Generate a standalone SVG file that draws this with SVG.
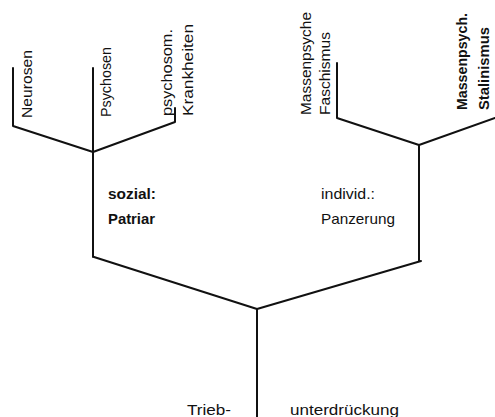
<svg xmlns="http://www.w3.org/2000/svg" width="495" height="417" viewBox="0 0 495 417">
<style>
.ln{fill:none;stroke:#111;stroke-width:2;stroke-linecap:round;stroke-linejoin:round}
.t{font-family:"Liberation Sans",Arial,sans-serif;font-size:15px;fill:#111}
.b{font-weight:bold}
</style>
<rect width="495" height="417" fill="#fff"/>
<g id="connectors">
<path class="ln" d="M13,68 V126 L93,152"/>
<path class="ln" d="M93,68 V257"/>
<path class="ln" d="M175,108 V122 L93,152"/>
<path class="ln" d="M337,63 V118 L419,145"/>
<path class="ln" d="M495,118 L419,145 V261"/>
<path class="ln" d="M94,257 L257,309 L421,261"/>
<path class="ln" d="M257,309 V417"/>
</g>
<g id="neurosen"><text class="t" transform="translate(32,118) rotate(-90)" textLength="68" lengthAdjust="spacingAndGlyphs">Neurosen</text></g>
<g id="psychosen"><text class="t" transform="translate(111,117) rotate(-90)" textLength="70" lengthAdjust="spacingAndGlyphs">Psychosen</text></g>
<g id="psychosom"><text class="t" transform="translate(172,116) rotate(-90)" textLength="87" lengthAdjust="spacingAndGlyphs">psychosom.</text>
<text class="t" transform="translate(193,116) rotate(-90)" textLength="92" lengthAdjust="spacingAndGlyphs">Krankheiten</text></g>
<g id="faschismus"><text class="t" transform="translate(311,115) rotate(-90)" textLength="103" lengthAdjust="spacingAndGlyphs">Massenpsyche</text>
<text class="t" transform="translate(330,115) rotate(-90)" textLength="83" lengthAdjust="spacingAndGlyphs">Faschismus</text></g>
<g id="stalinismus"><text class="t b" transform="translate(467,110) rotate(-90)" textLength="97" lengthAdjust="spacingAndGlyphs">Massenpsych.</text>
<text class="t b" transform="translate(489,110) rotate(-90)" textLength="83" lengthAdjust="spacingAndGlyphs">Stalinismus</text></g>
<g id="sozial"><text class="t b" x="108" y="199" textLength="48" lengthAdjust="spacingAndGlyphs">sozial:</text>
<text class="t b" x="108" y="224" textLength="47" lengthAdjust="spacingAndGlyphs">Patriar</text></g>
<g id="individ"><text class="t" x="321" y="199" textLength="54" lengthAdjust="spacingAndGlyphs">individ.:</text>
<text class="t" x="321" y="224" textLength="74" lengthAdjust="spacingAndGlyphs">Panzerung</text></g>
<g id="triebunterdrueckung"><text class="t" x="187" y="415" textLength="44" lengthAdjust="spacingAndGlyphs">Trieb-</text>
<text class="t" x="290" y="415" textLength="109" lengthAdjust="spacingAndGlyphs">unterdrückung</text></g>
</svg>
